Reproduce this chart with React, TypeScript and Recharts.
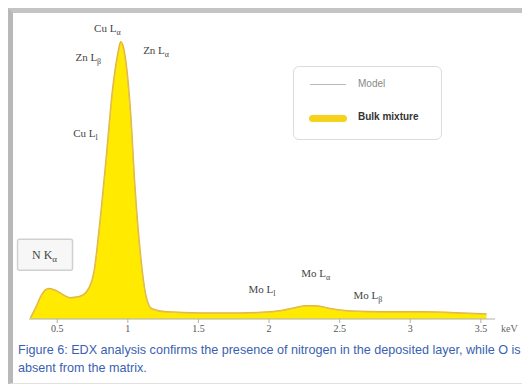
import React from "react";
import { ComposedChart, Area, Line, XAxis, YAxis, ReferenceDot } from "recharts";

const energy = [0.31, 0.35, 0.39, 0.44, 0.49, 0.54, 0.59, 0.65, 0.71, 0.76, 0.8, 0.85, 0.89, 0.93, 0.95, 0.98, 1.02, 1.05, 1.09, 1.13, 1.17, 1.27, 1.51, 1.8, 2.01, 2.15, 2.26, 2.33, 2.44, 2.58, 2.79, 3.07, 3.36, 3.54];
const bulk = [0.4, 4.4, 8.8, 11, 10.3, 8.8, 7.7, 8, 10, 17, 34, 60, 82, 96, 100, 95, 74, 48, 23, 8, 3.7, 2.6, 2.2, 2.2, 2.6, 3.7, 4.8, 4.8, 3.7, 2.9, 2.6, 2.6, 2.2, 1.8];
const model = [0.4, 4.2, 8.6, 10.8, 10.2, 8.7, 7.6, 7.9, 9.8, 16.5, 33, 59, 81, 95, 99, 94, 73, 47, 22, 7.8, 3.6, 2.5, 2.1, 2.1, 2.5, 3.6, 4.7, 4.7, 3.6, 2.8, 2.5, 2.5, 2.1, 1.7];
const xTicks = [0.5, 1, 1.5, 2, 2.5, 3, 3.5];

const peakNames = ["Cu Lα", "Zn Lβ", "Zn Lα", "Cu Ll", "Mo Ll", "Mo Lα", "Mo Lβ"];
const peakX = [0.855, 0.72, 1.2, 0.7, 1.95, 2.33, 2.7];
const peakY = [105, 94.5, 97, 67, 11, 16.5, 8.5];
const boxedName = "N Kα";
const boxedX = 0.41;
const boxedY = 23;

const legendNames = ["Model", "Bulk mixture"];

const caption1 = "Figure 6: EDX analysis confirms the presence of nitrogen in the deposited layer, while O is";
const caption2 = "absent from the matrix.";

const data = energy.map((e, i) => ({ e, bulk: bulk[i], model: model[i] }));

function splitName(name: string) {
  const parts = name.split(" ");
  const line = parts[1];
  return { el: parts[0], main: line.charAt(0), sub: line.slice(1) };
}

const PeakLabel = (props: any) => {
  const { viewBox, name, boxed } = props;
  const cx = viewBox.x + (viewBox.width || 0) / 2;
  const cy = viewBox.y + (viewBox.height || 0) / 2;
  const p = splitName(name);
  return (
    <g>
      {boxed && (
        <rect x={cx - 27} y={cy - 16} width={55} height={31} fill="#f7f7f7" stroke="#d0d0d0" strokeWidth={1.5} rx={2} />
      )}
      <text x={cx} y={cy + 4} textAnchor="middle" fontFamily="Liberation Serif, serif" fontSize={boxed ? 12 : 11} fill="#444">
        {p.el + " " + p.main}
        <tspan fontSize={boxed ? 9 : 8} dy={3}>{p.sub}</tspan>
      </text>
    </g>
  );
};

const LegendBox = () => (
  <div style={{ position: "absolute", left: 280, top: 53, border: "1px solid #dcdcdc", borderRadius: 6, background: "#fff", width: 147, height: 72, fontFamily: "Liberation Sans, Arial, sans-serif", fontSize: 10 }}>
    <div style={{ position: "absolute", left: 16, top: 17, width: 36, height: 1, background: "#b8b8b8" }} />
    <div style={{ position: "absolute", left: 64, top: 11, color: "#888" }}>{legendNames[0]}</div>
    <div style={{ position: "absolute", left: 15, top: 48, width: 38, height: 7, borderRadius: 4, background: "#F7D21A" }} />
    <div style={{ position: "absolute", left: 64, top: 44, color: "#333", fontWeight: 600 }}>{legendNames[1]}</div>
  </div>
);

export default function App() {
  return (
    <div style={{ width: 510, height: 370, borderTop: "5px solid #c4c4c4", borderLeft: "5px solid #b8b8b8", borderRight: "1px solid #e2e2e2", borderBottom: "1px solid #e2e2e2", position: "relative", background: "#fff" }}>
      <ComposedChart width={508} height={336} data={data} margin={{ top: 15, right: 26, bottom: 0, left: 16 }}>
        <XAxis
          dataKey="e"
          type="number"
          domain={[0.3, 3.6]}
          ticks={xTicks}
          allowDataOverflow
          stroke="#b0b0b0"
          tickSize={4}
          tick={{ fontFamily: "Liberation Serif, serif", fontSize: 10, fill: "#555" }}
          height={30}
        />
        <YAxis hide domain={[0, 105]} />
        <Area type="monotone" dataKey="bulk" name={legendNames[1]} fill="#FFEA00" fillOpacity={1} stroke="#EFB200" strokeWidth={1.5} isAnimationActive={false} />
        <Line type="monotone" dataKey="model" name={legendNames[0]} stroke="#c8c8c8" strokeWidth={0.6} dot={false} isAnimationActive={false} />
        {peakNames.map((n, i) => (
          <ReferenceDot key={n} x={peakX[i]} y={peakY[i]} r={0} ifOverflow="visible" label={<PeakLabel name={n} />} />
        ))}
        <ReferenceDot x={boxedX} y={boxedY} r={0} ifOverflow="visible" label={<PeakLabel name={boxedName} boxed />} />
      </ComposedChart>
      <LegendBox />
      <div style={{ position: "absolute", left: 488, top: 310, fontFamily: "Liberation Serif, serif", fontSize: 10, color: "#666" }}>keV</div>
      <div style={{ position: "absolute", left: 5, top: 328, fontFamily: "Liberation Sans, Arial, sans-serif", fontSize: 12.6, color: "#3a5fb0", lineHeight: "18px", whiteSpace: "nowrap" }}>
        <div>{caption1}</div>
        <div>{caption2}</div>
      </div>
    </div>
  );
}
